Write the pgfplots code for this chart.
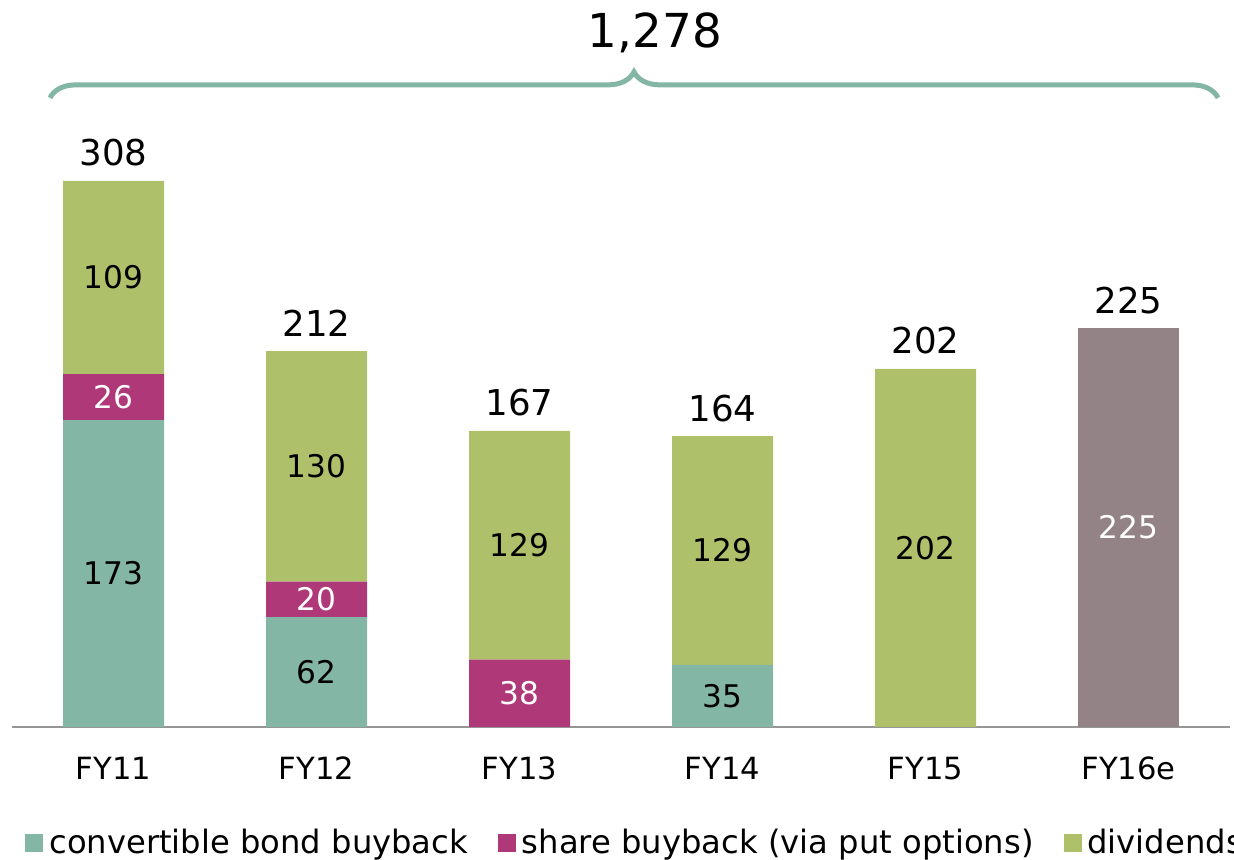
\documentclass[border=0pt]{standalone}
\usepackage{pgfplots}
\pgfplotsset{compat=1.18}
\usepackage{fontspec}
\setmainfont{DejaVu Sans}
\usetikzlibrary{decorations.pathreplacing}

\definecolor{cbond}{RGB}{132,182,166}
\definecolor{sharec}{RGB}{174,56,120}
\definecolor{divid}{RGB}{175,192,106}
\definecolor{estim}{RGB}{148,131,134}
\definecolor{axisgray}{RGB}{150,150,150}

% 1px of the reference = 0.5pt here
\pgfplotsset{base/.style={width=609pt, height=363.5pt, scale only axis,
  xmin=-0.5, xmax=5.5, ymin=0, ymax=410, clip=false, at={(0,0)}, anchor=south west}}

\begin{document}
\begin{tikzpicture}
  \begin{axis}[base, ybar stacked, bar width=50.5pt,
      axis x line=bottom, axis y line=none,
      x axis line style={draw=axisgray, line width=1pt, -},
      xtick=data, xticklabels={FY11,FY12,FY13,FY14,FY15,FY16e}, major tick length=0pt,
      xticklabel style={font=\fontsize{15.3}{18}\selectfont, anchor=base, yshift=-26.5pt},
      legend style={at={(0,0)}, anchor=west, xshift=6.5pt, yshift=-58pt, draw=none,
                    legend columns=3, font=\fontsize{16.1}{19}\selectfont,
                    inner sep=0pt, nodes={inner sep=3pt},
                    /tikz/every even column/.append style={column sep=12pt}},
      legend image code/.code={\fill[#1] (0pt,-4.5pt) rectangle (9pt,4.5pt);}]
    \addplot[fill=cbond, draw=none] coordinates {(0,173) (1,62) (2,0) (3,35) (4,0) (5,0)};
    \addplot[fill=sharec, draw=none] coordinates {(0,26) (1,20) (2,38) (3,0) (4,0) (5,0)};
    \addplot[fill=divid, draw=none] coordinates {(0,109) (1,130) (2,129) (3,129) (4,202) (5,0)};
    \addplot[fill=estim, draw=none] coordinates {(0,0) (1,0) (2,0) (3,0) (4,0) (5,225)};
    \legend{convertible bond buyback, share buyback (via put options), dividends}
  \end{axis}
  \begin{axis}[base, hide axis]
    % values inside the segments
    \addplot[draw=none, mark=none, nodes near coords, point meta=explicit symbolic,
      nodes near coords style={font=\fontsize{15.6}{18}\selectfont, anchor=center, text=black}]
      coordinates {(0,86.5)[173] (0,253.5)[109] (1,31)[62] (1,147)[130] (2,102.5)[129]
                   (3,17.5)[35] (3,99.5)[129] (4,101)[202]};
    \addplot[draw=none, mark=none, nodes near coords, point meta=explicit symbolic,
      nodes near coords style={font=\fontsize{15.6}{18}\selectfont, anchor=center, text=white}]
      coordinates {(0,186)[26] (1,72)[20] (2,19)[38] (5,112.5)[225]};
    % totals
    \addplot[draw=none, mark=none, nodes near coords, point meta=explicit symbolic,
      nodes near coords style={font=\fontsize{17.8}{21}\selectfont, anchor=base, yshift=7.5pt, text=black}]
      coordinates {(0,308)[308] (1,212)[212] (2,167)[167] (3,164)[164] (4,202)[202] (5,225)[225]};
    \draw[cbond, line width=2.5pt, decorate, decoration={brace, amplitude=13pt}]
      (axis cs:-0.313,354.8) -- (axis cs:5.441,354.8);
    \node[font=\fontsize{23.4}{28}\selectfont] at (axis cs:2.667,391.4) {1,278};
  \end{axis}
  \pgfresetboundingbox
  \useasboundingbox (-6pt,-66.5pt) rectangle (611pt,363.5pt);
\end{tikzpicture}
\end{document}
